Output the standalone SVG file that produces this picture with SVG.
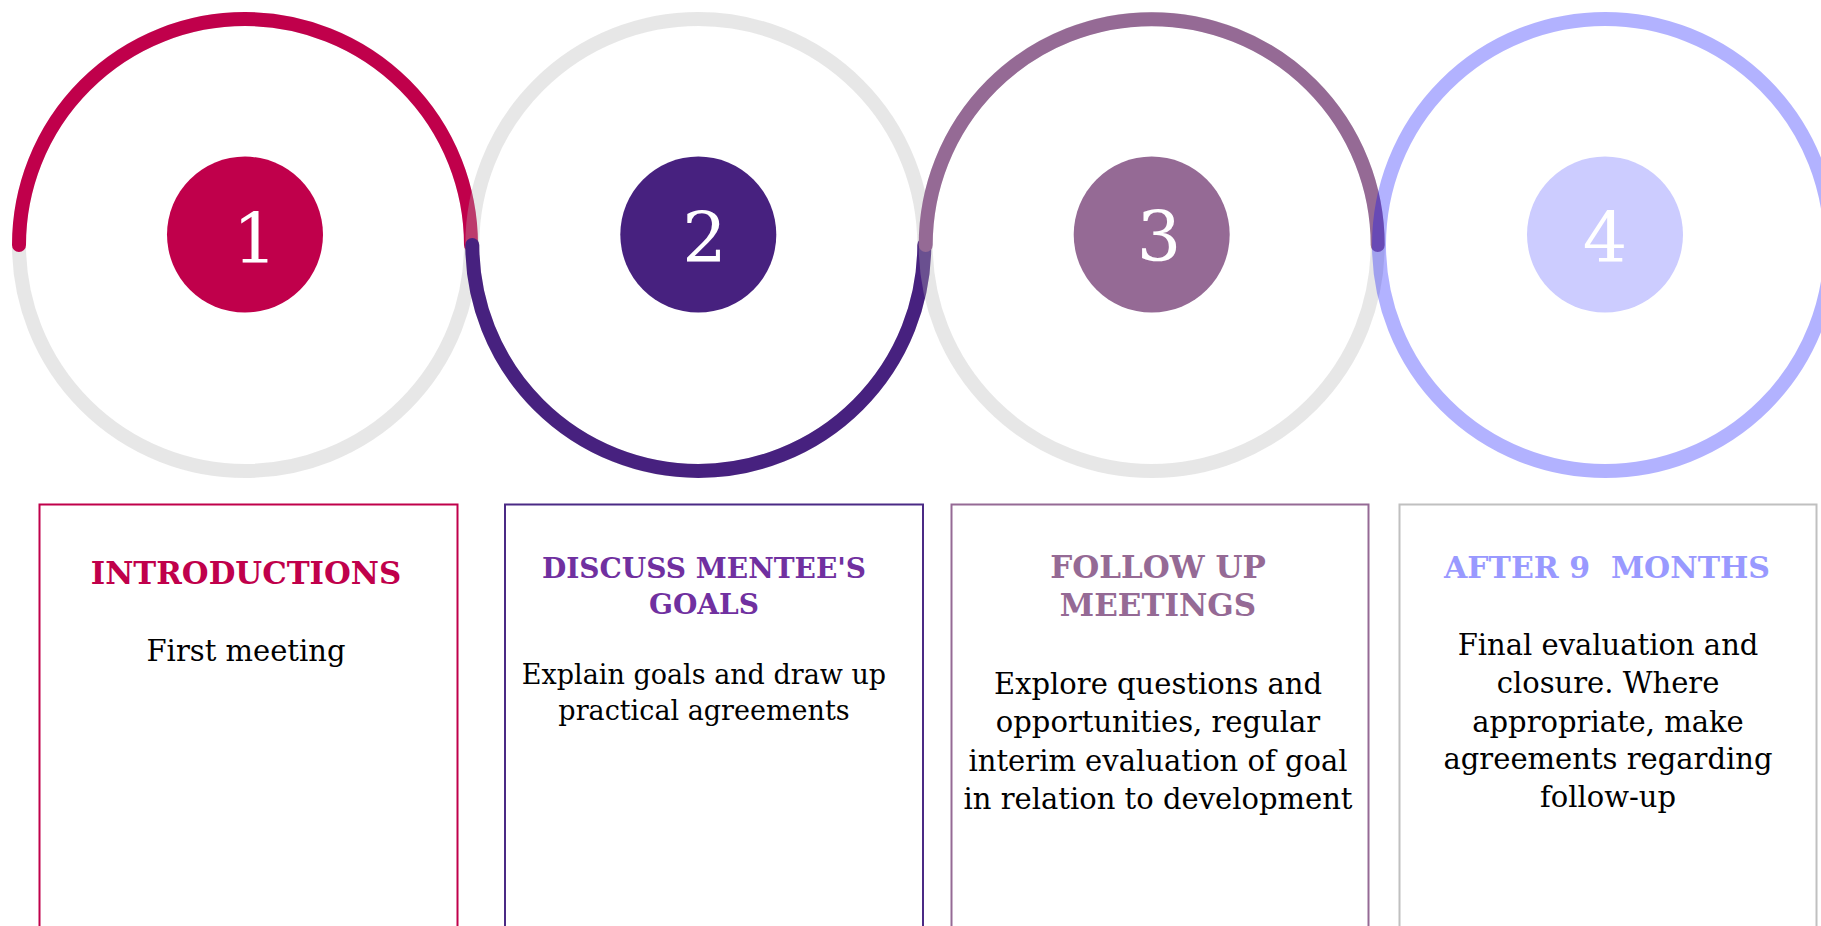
<svg xmlns="http://www.w3.org/2000/svg" width="1821" height="926" viewBox="0 0 1821 926">
<style>
.track{fill:none;stroke:#b4b4b4;stroke-opacity:0.32;stroke-width:14}
.arc{fill:none;stroke-width:14;stroke-linecap:round}
.num{font-family:"DejaVu Serif",serif;font-size:70px;fill:#ffffff;text-anchor:middle}
.box{fill:none;stroke-width:2}
.head{font-family:"DejaVu Serif",serif;font-weight:bold;text-anchor:middle}
.body{font-family:"DejaVu Serif",serif;fill:#000000;text-anchor:middle}
</style>
<rect x="0" y="0" width="1821" height="926" fill="#ffffff"/>
<g id="step1">
  <circle class="track" cx="245" cy="245" r="226"/>
  <path class="arc" stroke="#c0004b" d="M 19 245 A 226 226 0 0 1 471 245"/>
  <circle cx="245" cy="234.6" r="78" fill="#c0004b"/>
  <text class="num" x="255" y="263">1</text>
  <rect class="box" stroke="#c0004b" x="39.5" y="504.5" width="418" height="460"/>
  <text class="head" fill="#c0004b" font-size="30.8" x="246" y="584">INTRODUCTIONS</text>
  <text class="body" font-size="29" x="246" y="661">First meeting</text>
</g>
<g id="step2">
  <circle class="track" cx="698.3" cy="245" r="226"/>
  <path class="arc" stroke="#47217f" d="M 472.3 245 A 226 226 0 0 0 924.3 245"/>
  <circle cx="698.3" cy="234.6" r="78" fill="#47217f"/>
  <text class="num" x="704.5" y="262">2</text>
  <rect class="box" stroke="#4b2a85" x="505" y="504.5" width="418" height="460"/>
  <text class="head" fill="#7030a0" font-size="28" x="704" y="578">DISCUSS MENTEE'S</text>
  <text class="head" fill="#7030a0" font-size="28" x="704" y="614">GOALS</text>
  <text class="body" font-size="27" x="704" y="684">Explain goals and draw up</text>
  <text class="body" font-size="27" x="704" y="720">practical agreements</text>
</g>
<g id="step3">
  <circle class="track" cx="1151.7" cy="245" r="226"/>
  <path class="arc" stroke="#956a95" d="M 925.7 245 A 226 226 0 0 1 1377.7 245"/>
  <circle cx="1151.7" cy="234.6" r="78" fill="#956a95"/>
  <text class="num" x="1159" y="261">3</text>
  <rect class="box" stroke="#956a95" x="951.5" y="504.5" width="417" height="460"/>
  <text class="head" fill="#956a95" font-size="31" x="1158" y="578">FOLLOW UP</text>
  <text class="head" fill="#956a95" font-size="31" x="1158" y="616">MEETINGS</text>
  <text class="body" font-size="29" x="1158" y="694">Explore questions and</text>
  <text class="body" font-size="29" x="1158" y="732">opportunities, regular</text>
  <text class="body" font-size="29" x="1158" y="770.5">interim evaluation of goal</text>
  <text class="body" font-size="29" x="1158" y="809">in relation to development</text>
</g>
<g id="step4">
  <circle cx="1605" cy="245" r="226" fill="none" stroke="#0000ff" stroke-opacity="0.3" stroke-width="14"/>
  <circle cx="1605" cy="234.6" r="78" fill="#ccccff"/>
  <text class="num" x="1605" y="262">4</text>
  <rect class="box" stroke="#c0c0c0" x="1399.5" y="504.5" width="417" height="460"/>
  <text class="head" fill="#9999ff" font-size="30" x="1607" y="578" xml:space="preserve">AFTER 9  MONTHS</text>
  <text class="body" font-size="29" x="1608" y="655">Final evaluation and</text>
  <text class="body" font-size="29" x="1608" y="693.3">closure. Where</text>
  <text class="body" font-size="29" x="1608" y="731.7">appropriate, make</text>
  <text class="body" font-size="29" x="1608" y="769.3">agreements regarding</text>
  <text class="body" font-size="29" x="1608" y="806.7">follow-up</text>
</g>
<g id="connectors"></g>
</svg>
